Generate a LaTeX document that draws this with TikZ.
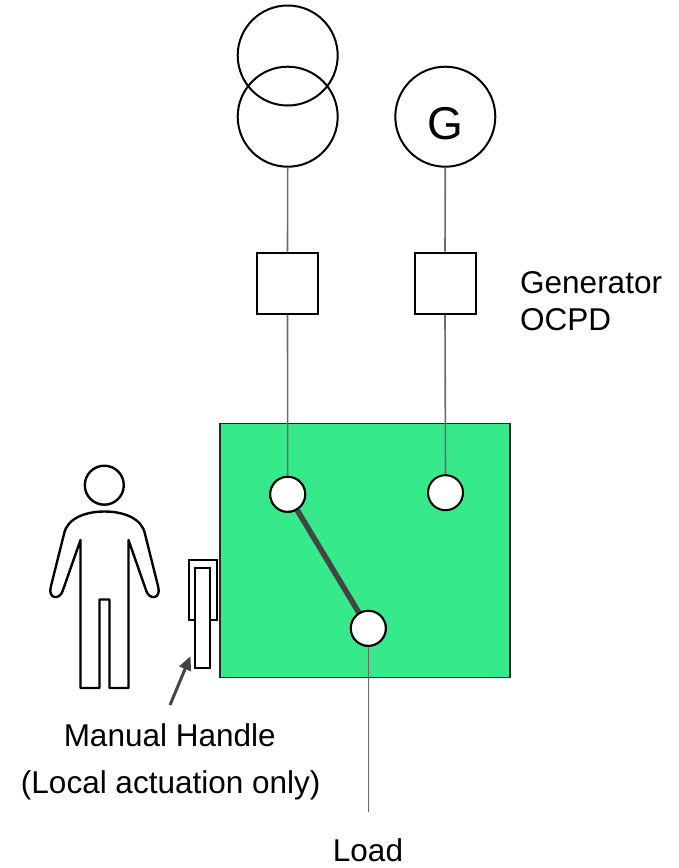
\documentclass[tikz,border=0pt]{standalone}
\usepackage{fontspec}
\setmainfont{Liberation Sans}
\usetikzlibrary{arrows.meta}
\definecolor{atsgreen}{HTML}{36EA8B}
\definecolor{wiregray}{HTML}{6A6A6A}
\definecolor{bladegray}{HTML}{444444}
\tikzset{
  sym/.style={draw=black, line width=2pt, circle, minimum size=100pt, inner sep=0pt},
  ocpd/.style={draw=black, line width=2pt, fill=white, minimum width=61pt, minimum height=61pt, inner sep=0pt},
  contact/.style={draw=black, line width=2pt, fill=white, circle, minimum size=35pt, inner sep=0pt},
  wire/.style={draw=wiregray, line width=1.6pt},
  lbl/.style={font=\fontsize{31.5}{36}\selectfont, inner sep=0pt},
  outline/.style={draw=black, line width=2.4pt, line join=round}
}
\begin{document}
\begin{tikzpicture}[x=1pt,y=-1pt]
\useasboundingbox (0,0) rectangle (679,868);
% transformer and generator
\node[sym] (T1) at (287.7,55.5) {};
\node[sym] (T2) at (287.7,116.7) {};
\node[sym] (G) at (445.3,116.7) {};
\node[font=\fontsize{46}{50}\selectfont, inner sep=0pt, anchor=base] (Gl) at (445.3,139) {G};
% OCPD boxes
\node[ocpd] (B1) at (287.5,283) {};
\node[ocpd] (B2) at (445,283) {};
% ATS enclosure
\node[draw=black!85, line width=1.8pt, fill=atsgreen, minimum width=290pt, minimum height=254pt, inner sep=0pt, anchor=north west] (ATS) at (219,422.5) {};
% wires
\draw[wire] (T2.south) -- (B1.north);
\draw[wire] (G.south) -- (B2.north);
% contacts
\node[contact] (C1) at (287.7,494.3) {};
\node[contact] (C2) at (445.5,492.7) {};
\node[contact] (C3) at (368.3,628.3) {};
\draw[wire] (B1.south) -- (C1.north);
\draw[wire] (B2.south) -- (C2.north);
\coordinate (L) at (368.3,811.7);
\draw[wire] (C3.south) -- (L);
% blade
\draw[bladegray, line width=5.5pt] (C1) -- (C3);
\node[contact] at (C1) {};
\node[contact] at (C3) {};
% handle
\node[draw=black, line width=2pt, fill=white, minimum width=28.3pt, minimum height=60.3pt, inner sep=0pt, anchor=north west] (H1) at (187.7,559) {};
\node[draw=black, line width=2pt, fill=white, minimum width=15pt, minimum height=99.4pt, inner sep=0pt, anchor=north west] (H2) at (194.3,567.3) {};
% person
\node[draw=black, line width=2.4pt, circle, minimum size=39pt, inner sep=0pt] (head) at (104.3,485.2) {};
\draw[outline] (80.5,688) -- (80.5,540) -- (63,590)
  .. controls (60,601) and (47,599) .. (51,586)
  -- (64,534) .. controls (67,518) and (86,511.5) .. (104.5,511.5)
  .. controls (123,511.5) and (142,518) .. (145,534)
  -- (158,586) .. controls (162,599) and (149,601) .. (146,590)
  -- (128.5,540) -- (128.5,688) -- (109.5,688) -- (109.5,599.5)
  -- (99.5,599.5) -- (99.5,688) -- cycle;
% arrow to handle
\coordinate (A0) at (170,705);
\coordinate (A1) at (190.5,656);
\draw[bladegray, line width=3pt, -{Triangle[length=14pt,width=12pt]}] (A0) -- (A1);
% labels
\node[lbl, anchor=base west] (gen1) at (520,293) {Generator};
\node[lbl, anchor=base west] (gen2) at (520,330.7) {OCPD};
\node[lbl, anchor=base] (man1) at (169.7,746.7) {Manual Handle};
\node[lbl, anchor=base] (man2) at (170.7,793) {(Local actuation only)};
\node[lbl, anchor=base] (load) at (368,861) {Load};
\end{tikzpicture}
\end{document}
